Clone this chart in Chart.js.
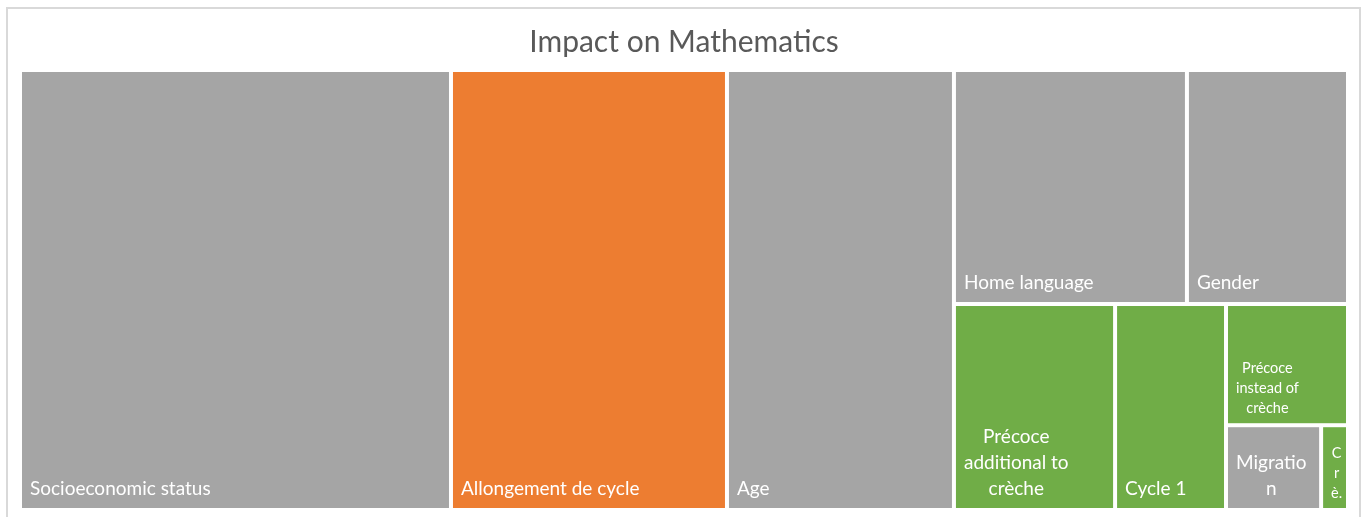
<!DOCTYPE html>
<html>
<head>
<meta charset="utf-8">
<script src="https://cdn.jsdelivr.net/npm/chart.js@4.4.1/dist/chart.umd.min.js"></script>
<style>
html, body { margin: 0; padding: 0; background: #fff; }
#frame { position: absolute; left: 6px; top: 7px; width: 1351px; height: 530px; border: 2px solid #d9d9d9; }
#wrap { position: absolute; left: 0; top: 0; width: 1367px; height: 517px; }
</style>
</head>
<body>
<div id="frame"></div>
<div id="wrap"><canvas id="Treemap"></canvas></div>
<script>
// data, largest first (share of total area in %)
const categories = ['Socioeconomic status', 'Allongement de cycle', 'Age', 'Home language', 'Gender',
    'Précoce additional to crèche', 'Cycle 1', 'Précoce instead of crèche', 'Migration', 'Crèche'];
const impactValues = [32.45, 20.78, 17.09, 9.33, 6.45, 5.68, 3.91, 2.53, 1.38, 0.39];
const groups = ['other', 'focus', 'other', 'other', 'other', 'preschool', 'preschool', 'preschool', 'other', 'preschool'];
// the labels as they wrap in the picture
const labelLines = [
    ['Socioeconomic status'], ['Allongement de cycle'], ['Age'], ['Home language'], ['Gender'],
    ['Précoce', 'additional to', 'crèche'], ['Cycle 1'], ['Précoce', 'instead of', 'crèche'],
    ['Migratio', 'n'], ['C', 'r', 'è.']
];

const groupColors = { other: '#a5a5a5', focus: '#ed7d31', preschool: '#70ad47' };
const labelSize = [19, 19, 19, 19, 19, 19, 19, 14.5, 19, 14.5];
const FONT = 'Lato';

function worst(row, side){
    var s = 0;
    row.forEach(function(r){ s += r.area; });
    var thick = s / side, max = 0;
    row.forEach(function(r){
        var len = r.area / thick;
        max = Math.max(max, len / thick, thick / len);
    });
    return max;
}

function layoutRow(row, rect, out){
    var s = 0;
    row.forEach(function(r){ s += r.area; });
    if(rect.w >= rect.h){
        var colW = s / rect.h, yy = rect.y;
        row.forEach(function(r){
            var hh = r.area / colW;
            out.push({i: r.i, x: rect.x, y: yy, w: colW, h: hh});
            yy += hh;
        });
        return {x: rect.x + colW, y: rect.y, w: rect.w - colW, h: rect.h};
    }
    var rowH = s / rect.w, xx = rect.x;
    row.forEach(function(r){
        var ww = r.area / rowH;
        out.push({i: r.i, x: xx, y: rect.y, w: ww, h: rowH});
        xx += ww;
    });
    return {x: rect.x, y: rect.y + rowH, w: rect.w, h: rect.h - rowH};
}

function squarify(items, rect){
    var out = [], row = [], i = 0;
    while(i < items.length){
        var side = Math.min(rect.w, rect.h);
        var cand = row.concat([items[i]]);
        if(row.length == 0 || worst(cand, side) <= worst(row, side)){
            row = cand;
            i++;
        } else {
            rect = layoutRow(row, rect, out);
            row = [];
        }
    }
    if(row.length) layoutRow(row, rect, out);
    return out;
}

const treemapPlugin = {
    id: 'treemap',
    afterDatasetsDraw(chart){
        const ctx = chart.ctx;
        const xs = chart.scales.x, ys = chart.scales.y;
        const area = chart.chartArea;
        const aspect = (area.right - area.left) / (area.bottom - area.top);
        const values = chart.data.datasets[0].tree;
        var total = 0;
        values.forEach(function(v){ total += v; });
        const items = values.map(function(v, i){ return {i: i, area: v / total * aspect}; });
        const cells = squarify(items, {x: 0, y: 0, w: aspect, h: 1});

        ctx.save();
        cells.forEach(function(c){
            var x0 = xs.getPixelForValue(c.x / aspect), x1 = xs.getPixelForValue((c.x + c.w) / aspect);
            var y0 = ys.getPixelForValue(c.y), y1 = ys.getPixelForValue(c.y + c.h);
            ctx.fillStyle = groupColors[groups[c.i]];
            ctx.fillRect(x0 + 2, y0 + 2, x1 - x0 - 4, y1 - y0 - 4);

            var size = labelSize[c.i], lh = size * 1.38;
            var lines = labelLines[c.i];
            ctx.font = size + 'px ' + FONT;
            ctx.fillStyle = '#ffffff';
            ctx.textAlign = 'center';
            ctx.textBaseline = 'middle';
            var bw = 0;
            lines.forEach(function(l){ bw = Math.max(bw, ctx.measureText(l).width); });
            var cx = x0 + 10 + bw / 2;
            var yb = y1 - size - 2;
            lines.forEach(function(l, k){
                ctx.fillText(l, cx, yb - (lines.length - 1 - k) * lh);
            });
        });
        ctx.restore();
    }
};

const ctx = document.getElementById('Treemap');
const myChart = new Chart(ctx, {
    type: 'scatter',
    data: {
        labels: categories,
        datasets: [{
            label: 'Impact',
            data: [],
            tree: impactValues
        }]
    },
    options: {
        responsive: true,
        maintainAspectRatio: false,
        animation: false,
        layout: {
            padding: { left: 20, right: 19, top: 24, bottom: 7 }
        },
        scales: {
            x: { type: 'linear', min: 0, max: 1, display: false },
            y: { type: 'linear', min: 0, max: 1, reverse: true, display: false }
        },
        plugins: {
            legend: { display: false },
            tooltip: { enabled: false },
            title: {
                display: true,
                text: 'Impact on Mathematics',
                color: '#595959',
                font: { family: FONT, size: 30, weight: 'normal', lineHeight: 1.2 },
                padding: { top: 0, bottom: 10 }
            }
        }
    },
    plugins: [treemapPlugin]
});
</script>
</body>
</html>
